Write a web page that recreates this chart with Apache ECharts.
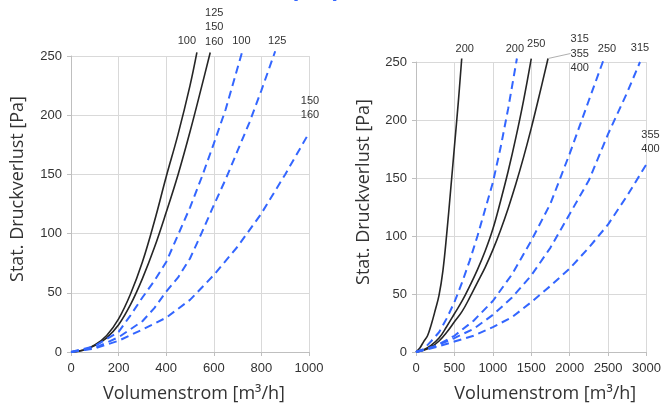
<!DOCTYPE html>
<html><head><meta charset="utf-8">
<script src="https://cdn.jsdelivr.net/npm/echarts@6.0.0/dist/echarts.min.js"></script>
<style>html,body{margin:0;padding:0;background:#fff}#c{width:664px;height:408px}</style>
</head><body><div id="c"></div>
<script>
// ---- data (Volumenstrom [m³/h], Druckverlust [Pa]) ----
const leftXTicks = [0, 200, 400, 600, 800, 1000];
const rightXTicks = [0, 500, 1000, 1500, 2000, 2500, 3000];
const yTicks = [0, 50, 100, 150, 200, 250];

// left chart
const L_black100 = [[0,0],[50,1.5],[100,6],[150,14],[200,28],[250,49],[300,76],[350,110],[400,148],[450,184],[500,225],[529,253]];
const L_black125 = [[0,0],[50,1.5],[100,5.5],[150,12],[200,23],[250,40],[300,62],[350,88],[400,118],[450,150],[500,186],[550,225],[585,253]];
const L_blue100  = [[0,0],[100,5],[200,17],[250,31],[300,46],[350,60],[400,76],[450,99],[500,122],[550,148],[600,176],[650,205],[700,240],[720,254]];
const L_blue125  = [[0,0],[100,3.5],[200,12.5],[300,26],[350,37],[400,51],[450,63],[500,79],[550,101],[600,124],[650,146],[700,170],[750,194],[800,221],[858,254]];
const L_blue150  = [[0,0],[100,3],[200,9.5],[300,19],[400,29],[500,44],[600,65],[700,89],[800,117],[900,150],[1000,185]];

// right chart
const R_black200 = [[0,0],[50,3.5],[100,9],[150,14],[200,24],[250,36],[300,49],[350,70],[400,102],[450,139],[500,177],[550,215],[595,253]];
const R_blue200  = [[0,0],[100,2.5],[200,9.5],[300,17],[400,29],[500,43],[600,60],[700,79],[800,100],[900,123],[1000,146],[1100,176],[1200,210],[1313,253]];
const R_black250 = [[0,0],[100,2],[200,6],[300,12],[400,22],[500,33],[600,44],[700,57],[800,71],[900,87],[1000,106],[1100,130],[1200,156],[1300,185],[1400,217],[1500,253]];
const R_black315 = [[0,0],[100,1.5],[200,4.5],[300,9.5],[400,17],[500,26],[600,35],[700,47],[800,60],[900,73],[1000,88],[1100,105],[1200,124],[1300,145],[1400,168],[1500,193],[1600,220],[1718,253]];
const R_blue250  = [[0,0],[250,5],[500,14],[750,27],[1000,44],[1250,67],[1500,96],[1750,128],[2000,171],[2250,217],[2447,253]];
const R_blue315  = [[0,0],[250,5],[500,12],[750,20],[1000,32],[1250,47],[1500,66],[1750,90],[2000,119],[2250,148],[2500,188],[2750,224],[2915,250]];
const R_blue355  = [[0,0],[250,4],[500,9],[750,14],[1000,21.5],[1250,30],[1500,43],[1750,57],[2000,72],[2250,90],[2500,110],[2750,135],[3000,162]];

const labels = {
  L_black100: '100', L_black125: '125\n150\n160', L_blue100: '100', L_blue125: '125', L_blue150: '150\n160',
  R_black200: '200', R_blue200: '200', R_black250: '250', R_black315: '315\n355\n400',
  R_blue250: '250', R_blue315: '315', R_blue355: '355\n400'
};

const BLACK = '#262626', BLUE = '#3366ff';

function mk(pts, gi, dashed, text, lab, extra) {
  const last = pts.length - 1;
  const s = {
    type: 'line', xAxisIndex: gi, yAxisIndex: gi, clip: false,
    symbol: 'circle', symbolSize: 1, showSymbol: true, showAllSymbol: true,
    smooth: dashed ? false : 0.4,
    lineStyle: { color: dashed ? BLUE : BLACK, width: dashed ? 2 : 1.6, type: dashed ? [8, 5] : 'solid' },
    itemStyle: { color: 'rgba(0,0,0,0)', borderWidth: 0 },
    emphasis: { disabled: true },
    data: pts.map((p, i) => i === last ? {
      value: p,
      label: Object.assign({ show: true, formatter: text, fontSize: 11, color: '#333',
        fontFamily: 'Liberation Sans', lineHeight: 14.5, position: 'top', distance: 3 }, lab)
    } : p)
  };
  return Object.assign(s, extra || {});
}

const plain = v => String(v);
const axisCommon = {
  type: 'value', min: 0,
  axisLine: { show: true, lineStyle: { color: '#bfbfbf' } },
  axisTick: { show: true, length: 4, lineStyle: { color: '#bfbfbf' } },
  splitLine: { show: true, lineStyle: { color: '#d9d9d9' } },
  axisLabel: { fontSize: 13, color: '#333', fontFamily: 'Liberation Sans', formatter: plain },
  nameTextStyle: { fontSize: 18, color: '#333', fontFamily: 'Open Sans' },
  nameLocation: 'middle'
};

const chart = echarts.init(document.getElementById('c'), null, { renderer: 'canvas' });
chart.setOption({
  animation: false,
  backgroundColor: '#fff',
  title: { text: '(DN)', left: 290, top: -23, padding: 0,
    textStyle: { color: BLUE, fontSize: 24, fontWeight: 'bold', fontFamily: 'Liberation Sans', lineHeight: 24 } },
  grid: [
    { left: 71, right: 355, top: 56, bottom: 56 },
    { left: 416, right: 14, top: 62, bottom: 55 }
  ],
  xAxis: [
    Object.assign({}, axisCommon, { gridIndex: 0, max: leftXTicks[leftXTicks.length-1], interval: leftXTicks[1]-leftXTicks[0],
      name: 'Volumenstrom [m³/h]', nameGap: 33,
      nameTextStyle: Object.assign({}, axisCommon.nameTextStyle, { padding: [0, 0, 0, 8] }),
      axisLabel: Object.assign({}, axisCommon.axisLabel, { margin: 10 }) }),
    Object.assign({}, axisCommon, { gridIndex: 1, max: rightXTicks[rightXTicks.length-1], interval: rightXTicks[1]-rightXTicks[0],
      name: 'Volumenstrom [m³/h]', nameGap: 33,
      nameTextStyle: Object.assign({}, axisCommon.nameTextStyle, { padding: [0, 0, 0, 28] }),
      axisLabel: Object.assign({}, axisCommon.axisLabel, { margin: 10 }) })
  ],
  yAxis: [
    Object.assign({}, axisCommon, { gridIndex: 0, max: yTicks[yTicks.length-1], interval: yTicks[1]-yTicks[0],
      name: 'Stat. Druckverlust [Pa]', nameGap: 44,
      nameTextStyle: Object.assign({}, axisCommon.nameTextStyle, { padding: [0, 0, 0, 30] }),
      axisLabel: Object.assign({}, axisCommon.axisLabel, { margin: 9 }) }),
    Object.assign({}, axisCommon, { gridIndex: 1, max: yTicks[yTicks.length-1], interval: yTicks[1]-yTicks[0],
      name: 'Stat. Druckverlust [Pa]', nameGap: 43,
      nameTextStyle: Object.assign({}, axisCommon.nameTextStyle, { padding: [0, 0, 0, 30] }),
      axisLabel: Object.assign({}, axisCommon.axisLabel, { margin: 9 }) })
  ],
  series: [
    mk(L_black100, 0, false, labels.L_black100, { offset: [-10, 0], distance: 4 }),
    mk(L_black125, 0, false, labels.L_black125, { offset: [4, 0], distance: 3 }),
    mk(L_blue100, 0, true, labels.L_blue100, { offset: [-1, 0], distance: 3 }),
    mk(L_blue125, 0, true, labels.L_blue125, { offset: [2, 0], distance: 3 }),
    mk(L_blue150, 0, true, labels.L_blue150, { offset: [1, 0], distance: 10 }),
    mk(R_black200, 1, false, labels.R_black200, { offset: [3, 0], distance: 2 }),
    mk(R_blue200, 1, true, labels.R_blue200, { offset: [-2, 0], distance: 2 }),
    mk(R_black250, 1, false, labels.R_black250, { offset: [5, 0], distance: 7 }),
    mk(R_black315, 1, false, labels.R_black315, { position: 'right', distance: 0 },
      { labelLayout: { dx: 22, dy: -5 }, labelLine: { show: true, lineStyle: { color: '#9a9a9a', width: 0.8 } } }),
    mk(R_blue250, 1, true, labels.R_blue250, { offset: [3, 0], distance: 2 }),
    mk(R_blue315, 1, true, labels.R_blue315, { offset: [0, 0], distance: 6 }),
    mk(R_blue355, 1, true, labels.R_blue355, { offset: [4, 0], distance: 7 })
  ]
});
</script></body></html>
